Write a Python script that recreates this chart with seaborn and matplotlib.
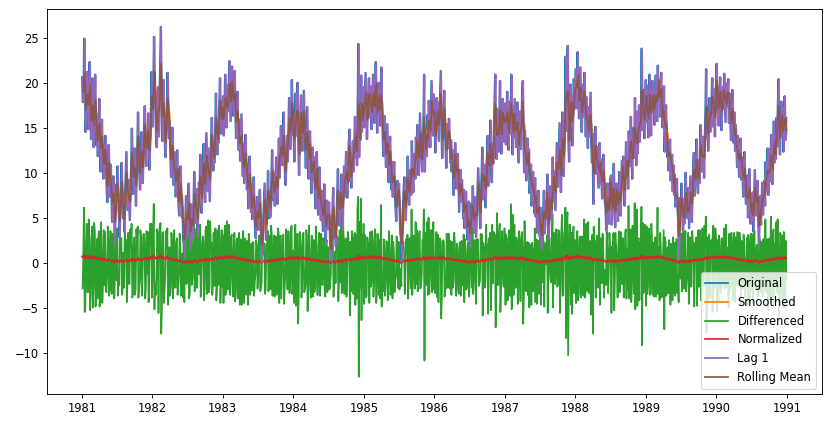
import matplotlib.pyplot as plt
import pandas as pd
import seaborn as sns

# minimum temperatures, about two values a week (one row per month)
y1981 = [20.7, 17.9, 18.8, 25.0, 19.6, 14.6, 16.9, 21.3, 18.1,
         14.9, 19.8, 22.4, 17.2, 13.8, 16.5, 20.6, 15.7,
         12.9, 17.4, 21.0, 16.2, 13.1, 15.8, 11.9, 14.7, 18.3,
         13.5, 10.2, 14.8, 16.0, 11.6, 9.4, 13.1, 10.7, 14.2,
         11.5, 8.3, 6.8, 10.9, 13.2, 9.6, 7.4, 11.0, 8.0,
         4.6, 7.9, 9.7, 5.8, 2.1, 6.0, 8.8, 6.9,
         10.8, 7.2, 5.3, 2.9, 6.1, 8.4, 11.2, 7.7, 5.0,
         6.2, 3.5, 7.4, 9.8, 12.4, 8.1, 5.9, 9.3, 7.1,
         4.8, 8.6, 10.6, 15.0, 11.2, 7.7, 9.9, 12.8,
         9.3, 6.4, 10.2, 12.7, 16.8, 13.0, 10.1, 8.2, 11.9,
         14.6, 11.0, 8.9, 12.0, 15.3, 17.5, 13.6, 10.8, 14.4,
         13.2, 16.7, 12.4, 10.4, 14.8, 16.9, 21.3, 17.5]
y1982 = [15.2, 18.6, 25.2, 20.1, 17.8, 14.3, 12.9, 16.7, 19.6,
         14.1, 17.5, 21.8, 26.3, 18.5, 13.6, 16.9, 20.4,
         16.0, 13.2, 11.8, 15.4, 17.3, 21.2, 16.6, 13.9, 15.7,
         12.1, 9.6, 13.0, 15.1, 11.2, 8.7, 12.4, 10.1, 7.4,
         9.8, 12.6, 9.1, 6.5, 5.3, 8.6, 10.8, 7.2, 5.1,
         6.2, 2.4, 4.9, 0.6, 3.8, 7.5, 5.2, 3.1,
         6.4, 8.9, 5.0, 1.7, 3.9, 6.6, 4.2, 2.6, 5.8,
         10.2, 7.1, 4.5, 8.3, 5.6, 2.9, 6.3, 9.0, 7.8,
         12.1, 8.4, 5.6, 7.9, 10.9, 13.3, 9.2, 6.8,
         10.4, 14.5, 11.1, 8.0, 12.8, 9.6, 6.9, 11.6, 13.9,
         16.2, 12.7, 10.3, 13.7, 11.2, 15.0, 18.9, 14.8, 12.1,
         15.8, 13.4, 17.6, 20.6, 16.2, 14.4, 18.1, 15.5]
y1983 = [18.6, 14.2, 16.8, 21.0, 17.5, 15.1, 19.8, 16.9, 18.2,
         22.5, 19.3, 15.8, 18.7, 21.9, 20.1, 16.4, 18.0,
         21.4, 17.2, 13.9, 16.3, 19.1, 15.2, 12.6, 16.0, 11.4,
         14.1, 16.6, 12.0, 9.7, 13.3, 8.9, 11.5, 14.3, 10.8,
         8.2, 10.7, 6.1, 9.4, 11.9, 8.4, 5.7, 7.9, 4.9,
         7.3, 9.6, 6.0, 3.9, 2.8, 5.4, 7.4, 4.6,
         3.7, 6.8, 8.2, 5.1, 2.3, 0.1, 3.6, 4.6, 6.9,
         8.9, 5.5, 2.6, 4.8, 6.7, 10.3, 7.2, 5.0, 8.1,
         5.2, 9.4, 12.6, 9.0, 7.0, 10.1, 6.4, 8.8,
         11.8, 8.3, 6.6, 10.5, 13.9, 9.5, 12.2, 15.3, 11.4,
         10.9, 13.6, 16.8, 12.3, 9.8, 8.7, 12.5, 14.2, 11.3,
         14.9, 18.4, 15.1, 12.7, 16.2, 20.4, 17.0, 14.3]
y1984 = [15.7, 11.3, 14.6, 18.9, 14.2, 16.8, 20.1, 13.4, 9.8,
         13.1, 16.6, 18.7, 14.9, 12.5, 15.8, 19.2, 16.0,
         13.0, 10.6, 14.3, 17.4, 12.1, 9.4, 13.6, 14.7, 11.6,
         7.8, 10.9, 12.9, 9.2, 11.8, 8.6, 6.1, 10.2, 12.4,
         8.9, 5.4, 7.3, 10.7, 7.1, 4.8, 8.1, 6.0, 3.6,
         6.4, 8.8, 5.9, 2.2, 4.4, 7.0, 3.8, 5.6,
         6.8, 3.9, 1.5, 0.2, 2.9, 5.5, 8.4, 4.7, 2.8,
         4.1, 1.9, 5.2, 7.6, 10.5, 6.3, 4.2, 7.9, 5.8,
         9.9, 6.6, 3.7, 8.2, 10.8, 7.4, 9.6, 12.4,
         8.7, 7.3, 10.8, 13.5, 14.9, 9.1, 11.5, 8.4, 12.0,
         13.6, 10.2, 12.9, 16.3, 11.7, 14.8, 10.9, 17.0, 24.4,
         11.8, 16.4, 13.7, 20.9, 14.6, 17.8, 15.2, 19.6]
y1985 = [15.1, 18.3, 21.2, 17.4, 13.8, 16.7, 18.9, 20.6, 16.2,
         19.7, 17.1, 14.9, 18.5, 21.0, 17.3, 15.6, 19.4,
         22.4, 18.0, 14.5, 17.8, 20.1, 16.6, 19.2, 15.3, 21.8,
         17.0, 15.0, 11.9, 14.6, 16.4, 12.8, 10.7, 13.2, 15.5,
         11.4, 9.0, 12.6, 14.1, 10.6, 8.2, 11.3, 7.4, 9.8,
         11.3, 8.1, 6.2, 4.7, 7.7, 9.2, 6.5, 8.9,
         6.0, 3.4, 2.8, 0.3, 4.1, 5.9, 8.3, 9.6, 6.2,
         4.8, 7.5, 8.7, 11.9, 8.0, 6.5, 9.3, 10.4, 7.6,
         13.6, 10.1, 7.9, 11.0, 12.2, 9.4, 14.0, 11.7,
         15.4, 12.3, 9.8, 13.1, 16.7, 13.9, 11.5, 10.2, 12.8,
         15.0, 21.0, 10.2, 13.6, 14.3, 11.9, 16.5, 13.0, 18.1,
         14.7, 12.9, 16.6, 20.3, 17.1, 14.2, 18.8, 16.0]
y1986 = [15.6, 12.3, 14.9, 18.4, 14.7, 17.9, 13.6, 16.2, 19.0,
         21.4, 15.3, 11.7, 14.2, 16.8, 19.2, 15.5, 13.4,
         10.6, 13.9, 15.5, 12.8, 16.1, 14.0, 11.2, 13.7, 10.2,
         12.6, 9.9, 7.6, 11.0, 13.4, 11.9, 8.3, 10.5, 12.2,
         9.1, 5.7, 8.0, 10.4, 6.8, 9.3, 7.5, 5.0, 8.2,
         3.9, 6.6, 8.0, 5.1, 2.6, 4.5, 6.9, 3.2,
         1.8, 4.9, 6.7, 4.0, 8.6, 5.2, 3.4, 6.0, 7.4,
         2.9, 5.6, 7.9, 10.6, 8.1, 5.8, 3.9, 7.2, 9.7,
         12.9, 7.1, 9.4, 11.0, 8.3, 6.2, 10.5, 12.1,
         14.2, 8.6, 11.4, 12.5, 15.9, 10.7, 9.0, 13.3, 11.1,
         14.6, 17.8, 21.0, 13.9, 11.6, 17.2, 14.8, 12.4, 15.9,
         20.3, 14.9, 12.2, 15.8, 18.3, 16.1, 13.5, 17.4]
y1987 = [17.8, 13.2, 16.4, 19.1, 15.0, 12.6, 16.3, 18.0, 14.4,
         21.0, 15.9, 12.1, 17.5, 14.0, 18.3, 15.6, 12.9,
         15.8, 17.9, 13.4, 11.2, 14.8, 16.9, 12.7, 15.1, 18.6,
         20.3, 13.6, 10.1, 14.8, 12.3, 9.2, 11.5, 13.9, 10.4,
         12.7, 7.8, 9.9, 11.0, 6.4, 8.7, 10.2, 7.1, 5.6,
         9.5, 5.2, 7.9, 3.4, 6.0, 8.1, 4.7, 3.0,
         6.2, 1.6, 4.9, 2.8, 5.7, 8.1, 3.3, 4.6, 6.9,
         6.8, 9.9, 4.4, 2.7, 5.9, 8.6, 7.0, 4.9, 6.3,
         11.8, 6.9, 10.3, 8.2, 5.9, 9.6, 13.4, 10.8,
         8.5, 12.2, 15.6, 10.1, 7.9, 11.4, 16.8, 13.2, 9.7,
         12.9, 16.8, 23.0, 14.7, 18.5, 24.2, 14.0, 11.3, 15.6,
         19.9, 15.3, 18.7, 13.1, 16.4, 20.5, 17.2, 19.8]
y1988 = [21.6, 17.2, 19.9, 23.5, 19.4, 16.1, 18.8, 21.8, 18.0,
         14.6, 17.6, 19.9, 16.3, 21.2, 17.4, 14.1, 18.5,
         15.9, 12.8, 17.4, 14.1, 16.5, 19.0, 13.3, 11.2, 14.4,
         6.6, 10.7, 12.7, 15.2, 11.4, 9.9, 13.0, 10.3, 8.4,
         13.4, 8.8, 11.6, 9.4, 7.2, 10.5, 12.1, 8.3, 6.8,
         6.1, 3.7, 7.3, 8.9, 5.6, 4.4, 7.8, 9.5,
         9.8, 4.3, 6.2, 7.7, 11.1, 5.9, 4.0, 7.4, 8.9,
         8.5, 4.7, 6.6, 10.2, 7.0, 5.3, 8.8, 11.4, 9.1,
         11.9, 8.1, 6.4, 9.7, 13.5, 9.6, 11.2, 8.3,
         14.7, 10.8, 12.5, 16.3, 12.0, 9.4, 13.6, 15.1, 11.7,
         18.4, 13.3, 10.9, 16.9, 12.2, 14.8, 17.6, 13.5, 15.9,
         17.6, 23.9, 14.8, 19.3, 16.0, 13.9, 18.2, 20.4]
y1989 = [15.7, 19.8, 16.4, 14.0, 17.9, 21.0, 17.5, 14.2, 18.6,
         20.3, 16.8, 19.1, 15.4, 18.0, 20.9, 17.2, 15.8,
         22.0, 18.6, 20.4, 16.3, 19.7, 21.2, 17.4, 15.1, 16.0,
         19.7, 12.4, 15.3, 17.6, 14.0, 11.8, 13.6, 10.3, 12.9,
         13.8, 9.2, 11.4, 12.1, 8.0, 10.9, 7.6, 9.9, 6.3,
         6.7, 9.4, 6.1, 4.8, 0.5, 3.9, 7.3, 5.6,
         8.9, 5.8, 3.6, 7.2, 4.4, 6.5, 10.1, 7.0, 5.2,
         5.0, 8.4, 3.9, 6.8, 9.7, 7.1, 4.6, 8.2, 10.6,
         12.3, 7.5, 9.8, 10.9, 13.8, 9.1, 7.8, 11.5,
         8.9, 12.6, 15.4, 11.3, 10.2, 14.1, 12.0, 9.5, 13.7,
         16.4, 21.6, 13.9, 16.8, 12.5, 15.2, 18.4, 14.6, 17.1,
         17.9, 20.6, 15.2, 19.4, 16.5, 14.1, 18.0, 20.8]
y1990 = [22.2, 16.9, 19.5, 15.3, 18.4, 20.7, 18.1, 14.8, 17.6,
         19.6, 17.2, 21.1, 18.3, 15.7, 20.0, 17.4, 19.2,
         20.5, 15.6, 18.9, 16.0, 13.7, 17.1, 19.3, 15.2, 13.4,
         16.8, 12.5, 15.4, 13.1, 10.7, 14.2, 11.8, 9.6, 13.0,
         13.9, 9.3, 11.8, 10.2, 7.4, 10.6, 12.4, 8.7, 6.6,
         6.9, 9.8, 5.1, 8.3, 10.5, 6.2, 4.4, 7.7,
         4.7, 7.9, 3.5, 6.8, 10.4, 8.0, 5.3, 7.1, 9.2,
         5.6, 2.0, 4.9, 7.5, 4.3, 6.7, 9.0, 5.4, 8.1,
         9.2, 6.4, 11.3, 8.0, 10.1, 12.8, 7.6, 9.9,
         12.7, 9.1, 14.3, 10.5, 8.8, 12.0, 15.8, 11.2, 13.4,
         11.6, 16.2, 13.0, 17.9, 20.5, 14.2, 12.1, 15.5, 18.0,
         14.2, 17.3, 12.4, 15.9, 18.6, 13.7, 16.2, 14.4]

years = [1981, 1982, 1983, 1984, 1985, 1986, 1987, 1988, 1989, 1990]
values = [y1981, y1982, y1983, y1984, y1985, y1986, y1987, y1988, y1989, y1990]

dates = []
temps = []
for yr, vals in zip(years, values):
    dates += list(pd.date_range(f'{yr}-01-01', f'{yr}-12-30', periods=len(vals)))
    temps += vals

df = pd.DataFrame({'Temp': temps}, index=pd.DatetimeIndex(dates))
df['Smoothed'] = df['Temp'].rolling(window=5).mean()
df['Differenced'] = df['Temp'].diff()
df['Normalized'] = (df['Temp'] - df['Temp'].min()) / (df['Temp'].max() - df['Temp'].min())
df['Lag1'] = df['Temp'].shift(1)
df['RollingMean'] = df['Temp'].rolling(window=3).mean()

dpi = 83.1
fig = plt.figure(figsize=(831 / dpi, 427 / dpi), dpi=dpi)
ax = fig.add_axes([46.7 / 831, 32.7 / 427, 775 / 831, 385 / 427])

sns.lineplot(x=df.index, y=df['Temp'], label='Original', color='C0', ax=ax)
sns.lineplot(x=df.index, y=df['Smoothed'], label='Smoothed', color='C1', ax=ax)
sns.lineplot(x=df.index, y=df['Differenced'], label='Differenced', color='C2', ax=ax)
sns.lineplot(x=df.index, y=df['Normalized'], label='Normalized', color='C3', ax=ax)
sns.lineplot(x=df.index, y=df['Lag1'], label='Lag 1', color='C4', ax=ax)
sns.lineplot(x=df.index, y=df['RollingMean'], label='Rolling Mean', color='C5', ax=ax)

ax.set_xlabel('')
ax.set_ylabel('')
ax.legend(loc='lower right')

plt.savefig('out.png', dpi=dpi)
